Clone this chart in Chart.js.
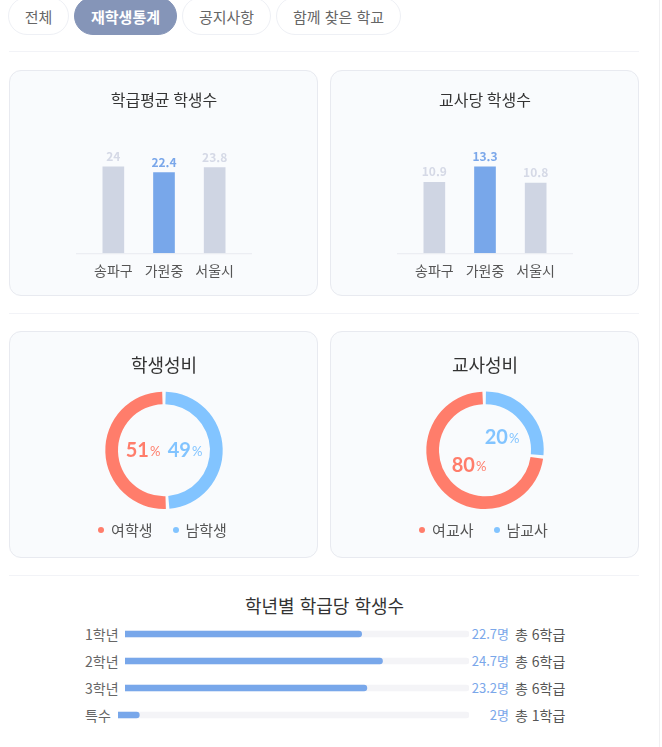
<!DOCTYPE html>
<html lang="ko">
<head>
<meta charset="utf-8">
<title>재학생통계</title>
<script src="https://cdn.jsdelivr.net/npm/chart.js@4"></script>
<style>
html, body { margin: 0; padding: 0; background: #fff; }
body { width: 662px; height: 747px; position: relative; overflow: hidden; font-family: "Noto Sans CJK KR", sans-serif; color: #555; }
.pill { position: absolute; top: -3px; height: 36px; line-height: 38px; border: 1px solid #eef0f5; border-radius: 19px; text-align: center; font-size: 15px; color: #666; box-sizing: content-box; background: #fff; }
.pill.on { background: #8595b8; border-color: #8595b8; color: #fff; font-weight: 700; }
.line { position: absolute; left: 9px; width: 630px; height: 1px; background: #f2f3f7; }
.edge { position: absolute; left: 659px; top: 0; width: 1px; height: 747px; background: #f0f0f2; }
.card { position: absolute; background: #f9fbfd; border: 1px solid #e8eaf0; border-radius: 12px; box-sizing: border-box; }
.card canvas, .row canvas { display: block; }
.legend { position: absolute; left: -1px; width: 307px; top: 188px; height: 20px; line-height: 20px; font-size: 15px; color: #555; display: flex; justify-content: center; }
.legend i { width: 6px; height: 6px; border-radius: 50%; margin: 7px 7px 0 0; }
.legend span + i { margin-left: 20px; }
h3 { position: absolute; left: 0; width: 649px; top: 591px; margin: 0; text-align: center; font-size: 18px; font-weight: 400; line-height: 28px; color: #333; }
.row { position: absolute; left: 0; width: 662px; height: 20px; font-size: 14px; line-height: 20px; }
.row span { position: absolute; top: 0; white-space: nowrap; }
.row .name { left: 85px; color: #666; }
.row .val { right: 153px; color: #7aa7ea; font-size: 13px; }
.row .total { left: 515px; color: #555; }
.row .bar { position: absolute; top: 0; height: 20px; }
</style>
</head>
<body>
<div class="edge"></div>
<div class="pill" style="left:8px;width:59px">전체</div>
<div class="pill on" style="left:74px;width:101px">재학생통계</div>
<div class="pill" style="left:182px;width:87px">공지사항</div>
<div class="pill" style="left:276px;width:123px">함께 찾은 학교</div>
<div class="line" style="top:51px"></div>
<div class="line" style="top:313px"></div>
<div class="line" style="top:575px"></div>

<div class="card" style="left:9px;top:70px;width:309px;height:226px"><canvas id="barClass"></canvas></div>
<div class="card" style="left:330px;top:70px;width:309px;height:226px"><canvas id="barTeacher"></canvas></div>
<div class="card" style="left:9px;top:331px;width:309px;height:227px"><canvas id="ratioStudent"></canvas><div class="legend"></div></div>
<div class="card" style="left:330px;top:331px;width:309px;height:227px"><canvas id="ratioTeacher"></canvas><div class="legend"></div></div>

<h3>학년별 학급당 학생수</h3>
<div id="rows"></div>

<script>
var regions = ["송파구", "가원중", "서울시"];
var classSize = [24, 22.4, 23.8];
var teacherLoad = [10.9, 13.3, 10.8];

var studentLabels = ["여학생", "남학생"];
var studentRatio = [51, 49];
var teacherLabels = ["여교사", "남교사"];
var teacherRatio = [80, 20];
// the picture's ring is not drawn to its printed 80/20, these are the arcs as they appear
var teacherArcs = [73.4, 26.6];

var grades = ["1학년", "2학년", "3학년", "특수"];
var gradeSize = [22.7, 24.7, 23.2, 2];
var gradeClasses = [6, 6, 6, 1];
var gradeMax = 33;

var GREY = "#cfd5e3", BLUE = "#78a7ea", RED = "#ff7d6b", SKY = "#82c4ff";
var KR = '"Noto Sans CJK KR", sans-serif';

Chart.defaults.font.family = KR;
Chart.defaults.animation = false;
Chart.defaults.responsive = false;

// value on top of each bar + baseline a bit wider than the plot
var barExtras = {
	id: 'barExtras',
	afterDatasetsDraw: function(chart) {
		var c = chart.ctx, y0 = chart.scales.y.getPixelForValue(0);
		c.save();
		c.strokeStyle = "#e9ebf0";
		c.beginPath();
		c.moveTo(chart.chartArea.left - 12, y0 + 0.5);
		c.lineTo(chart.chartArea.right + 12, y0 + 0.5);
		c.stroke();
		c.font = "bold 12px " + KR;
		c.textAlign = "center";
		chart.getDatasetMeta(0).data.forEach(function(bar, i) {
			c.fillStyle = i == 1 ? "#7aa7ea" : "#d5d9e6";
			c.fillText(chart.data.datasets[0].data[i], bar.x, bar.y - 6);
		});
		c.restore();
	}
};

function makeBar(id, title, values) {
	var cv = document.getElementById(id);
	cv.width = 307; cv.height = 224;
	new Chart(cv, {
		type: 'bar',
		plugins: [barExtras],
		data: {
			labels: regions,
			datasets: [{ data: values, backgroundColor: [GREY, BLUE, GREY], barThickness: 21 }]
		},
		options: {
			layout: { padding: { left: 78, right: 77, bottom: 15 } },
			plugins: {
				legend: { display: false },
				tooltip: { enabled: false },
				title: { display: true, text: title, color: "#333", font: { size: 16, weight: 'normal' }, padding: { top: 19, bottom: 24 } }
			},
			scales: {
				y: { display: false, min: 0, max: Math.max.apply(null, values) / 0.72 },
				x: {
					grid: { display: false }, border: { display: false },
					ticks: { color: "#555", font: { size: 14 }, padding: 1, maxRotation: 0 }
				}
			}
		}
	});
}

// percent text inside the ring
var ringText = {
	id: 'ringText',
	afterDatasetsDraw: function(chart, args, opts) {
		var c = chart.ctx, meta = chart.getDatasetMeta(0).data[0];
		var cols = chart.data.datasets[0].backgroundColor;
		c.save();
		c.textBaseline = "middle";
		opts.values.forEach(function(v, i) {
			var cx = meta.x + opts.offsets[i][0], cy = meta.y + opts.offsets[i][1];
			c.font = "bold 20px Lato, sans-serif";
			var w1 = c.measureText(v).width;
			c.font = "13px Lato, sans-serif";
			var w2 = c.measureText("%").width;
			var x = cx - (w1 + w2 + 1) / 2;
			c.fillStyle = cols[i];
			c.textAlign = "left";
			c.font = "bold 20px Lato, sans-serif";
			c.fillText(v, x, cy);
			c.font = "13px Lato, sans-serif";
			c.fillText("%", x + w1 + 1, cy + 2);
		});
		c.restore();
	}
};

function makeRing(id, title, labels, arcs, printed, offsets) {
	var cv = document.getElementById(id);
	cv.width = 307; cv.height = 225;
	var colors = [RED, SKY];
	new Chart(cv, {
		type: 'doughnut',
		plugins: [ringText],
		data: {
			labels: labels,
			datasets: [{ data: arcs, backgroundColor: colors, borderWidth: 0, spacing: 2 }]
		},
		options: {
			cutout: '78%',
			rotation: arcs[1] * 3.6,
			layout: { padding: { left: 1, bottom: 48 } },
			plugins: {
				tooltip: { enabled: false },
				title: { display: true, text: title, color: "#333", font: { size: 18, weight: 'normal' }, padding: { top: 22, bottom: 16 } },
				legend: { display: false },
				ringText: { values: printed, offsets: offsets }
			}
		}
	});
	cv.parentNode.querySelector(".legend").innerHTML = labels.map(function(l, i) {
		return '<i style="background:' + colors[i] + '"></i><span>' + l + '</span>';
	}).join("");
}

makeBar("barClass", "학급평균 학생수", classSize);
makeBar("barTeacher", "교사당 학생수", teacherLoad);
makeRing("ratioStudent", "학생성비", studentLabels, studentRatio, studentRatio, [[-21, 0], [21, 0]]);
makeRing("ratioTeacher", "교사성비", teacherLabels, teacherArcs, teacherRatio, [[-16, 15], [17, -13]]);

// one row per grade: label, thin progress chart, texts
var rowsEl = document.getElementById("rows");
grades.forEach(function(g, i) {
	var left = g.length > 2 ? 125 : 118;
	var row = document.createElement("div");
	row.className = "row";
	row.style.top = (624 + i * 27) + "px";
	row.innerHTML = '<span class="name">' + g + '</span>' +
		'<canvas class="bar" style="left:' + left + 'px" width="' + (469 - left) + '" height="20"></canvas>' +
		'<span class="val">' + gradeSize[i] + '명</span>' +
		'<span class="total">총 ' + gradeClasses[i] + '학급</span>';
	rowsEl.appendChild(row);
	new Chart(row.querySelector("canvas"), {
		type: 'bar',
		data: {
			labels: [g],
			datasets: [
				{ data: [gradeSize[i]], backgroundColor: BLUE, order: 1 },
				{ data: [gradeMax], backgroundColor: "#f4f4f7", order: 2 }
			]
		},
		options: {
			indexAxis: 'y',
			layout: { padding: 0 },
			datasets: { bar: { grouped: false, barThickness: 6, borderSkipped: false, borderRadius: { topRight: 3, bottomRight: 3 } } },
			plugins: { legend: { display: false }, tooltip: { enabled: false } },
			scales: {
				x: { display: false, min: 0, max: gradeMax },
				y: { display: false }
			}
		}
	});
});
</script>
</body>
</html>
